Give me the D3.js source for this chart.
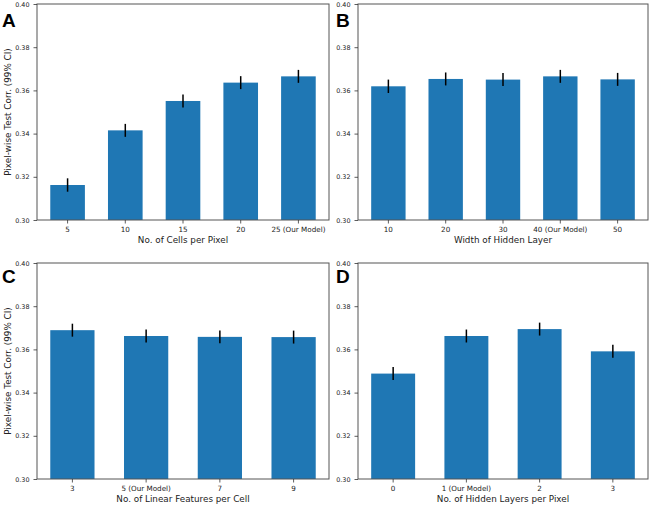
<!DOCTYPE html>
<html><head><meta charset="utf-8">
<script src="https://cdn.jsdelivr.net/npm/d3@7"></script>
<style>body{margin:0;background:#fff}svg{display:block}</style>
</head><body>
<script>
const catsA = ["5","10","15","20","25 (Our Model)"];
const valsA = [0.3162,0.3415,0.3551,0.3636,0.3665];
const errA  = [0.0031,0.0030,0.0030,0.0030,0.0030];
const catsB = ["10","20","30","40 (Our Model)","50"];
const valsB = [0.3619,0.3653,0.3650,0.3665,0.3651];
const errB  = [0.0031,0.0030,0.0030,0.0030,0.0030];
const catsC = ["3","5 (Our Model)","7","9"];
const valsC = [0.3689,0.3662,0.3658,0.3657];
const errC  = [0.0030,0.0030,0.0030,0.0030];
const catsD = ["0","1 (Our Model)","2","3"];
const valsD = [0.3488,0.3662,0.3694,0.3591];
const errD  = [0.0030,0.0030,0.0030,0.0030];
const yTicks = [0.30,0.32,0.34,0.36,0.38,0.40];
const panelLetters = ["A","B","C","D"];
const xTitles = ["No. of Cells per Pixel","Width of Hidden Layer","No. of Linear Features per Cell","No. of Hidden Layers per Pixel"];
const yTitle = "Pixel-wise Test Corr. (99% CI)";

const W=650,H=505;
const svg=d3.select("body").append("svg").attr("width",W).attr("height",H);
const panels=[
 {cats:catsA,vals:valsA,err:errA,x0:37,x1:329,y0:4,y1:220,lx:2,ly:27,ylab:true},
 {cats:catsB,vals:valsB,err:errB,x0:358,x1:648,y0:4,y1:220,lx:336,ly:27,ylab:false},
 {cats:catsC,vals:valsC,err:errC,x0:37,x1:329,y0:263,y1:479,lx:2,ly:283,ylab:true},
 {cats:catsD,vals:valsD,err:errD,x0:358,x1:648,y0:263,y1:479,lx:336,ly:283,ylab:false}
];
const font="DejaVu Sans";
panels.forEach((p,i)=>{
  const n=p.cats.length;
  const x=d3.scaleBand().domain(p.cats).range([p.x0,p.x1]).paddingInner(0.4).paddingOuter(0.05*(n-0.4));
  const y=d3.scaleLinear().domain([0.30,0.40]).range([p.y1,p.y0]);
  const g=svg.append("g");
  g.selectAll("rect.bar").data(p.vals).join("rect").attr("class","bar")
    .attr("x",(d,j)=>x(p.cats[j])).attr("width",x.bandwidth())
    .attr("y",d=>y(d)).attr("height",d=>y(0.30)-y(d)).attr("fill","#1f77b4");
  g.selectAll("line.err").data(p.vals).join("line").attr("class","err")
    .attr("x1",(d,j)=>x(p.cats[j])+x.bandwidth()/2).attr("x2",(d,j)=>x(p.cats[j])+x.bandwidth()/2)
    .attr("y1",(d,j)=>y(d-p.err[j])).attr("y2",(d,j)=>y(d+p.err[j]))
    .attr("stroke","#000").attr("stroke-width",1.5);
  g.append("rect").attr("x",p.x0).attr("y",p.y0).attr("width",p.x1-p.x0).attr("height",p.y1-p.y0)
    .attr("fill","none").attr("stroke","#555").attr("stroke-width",1);
  const ya=g.append("g").attr("transform",`translate(${p.x0},0)`)
    .call(d3.axisLeft(y).tickValues(yTicks).tickFormat(d3.format(".2f")).tickSize(3.5).tickPadding(4));
  const xa=g.append("g").attr("transform",`translate(0,${p.y1})`)
    .call(d3.axisBottom(x).tickSize(3.5).tickPadding(3.5));
  [ya,xa].forEach(a=>{
    a.select(".domain").remove();
    a.selectAll(".tick line").attr("stroke","#333").attr("stroke-width",0.8);
    a.selectAll(".tick text").attr("font-family",font).attr("fill","#222");
  });
  ya.selectAll(".tick text").attr("font-size",6.4);
  xa.selectAll(".tick text").attr("font-size",7.2);
  g.append("text").attr("x",(p.x0+p.x1)/2).attr("y",p.y1+23).attr("text-anchor","middle")
    .attr("font-family",font).attr("font-size",8.8).attr("fill","#222").text(xTitles[i]);
  if(p.ylab){
    g.append("text").attr("transform",`translate(${11},${(p.y0+p.y1)/2}) rotate(-90)`)
      .attr("text-anchor","middle").attr("font-family",font).attr("font-size",8.8).attr("fill","#222").text(yTitle);
  }
  g.append("text").attr("x",p.lx).attr("y",p.ly).attr("font-family","Liberation Sans, Arial, sans-serif")
    .attr("font-weight","bold").attr("font-size",19).attr("fill","#000").text(panelLetters[i]);
});
</script>
</body></html>
